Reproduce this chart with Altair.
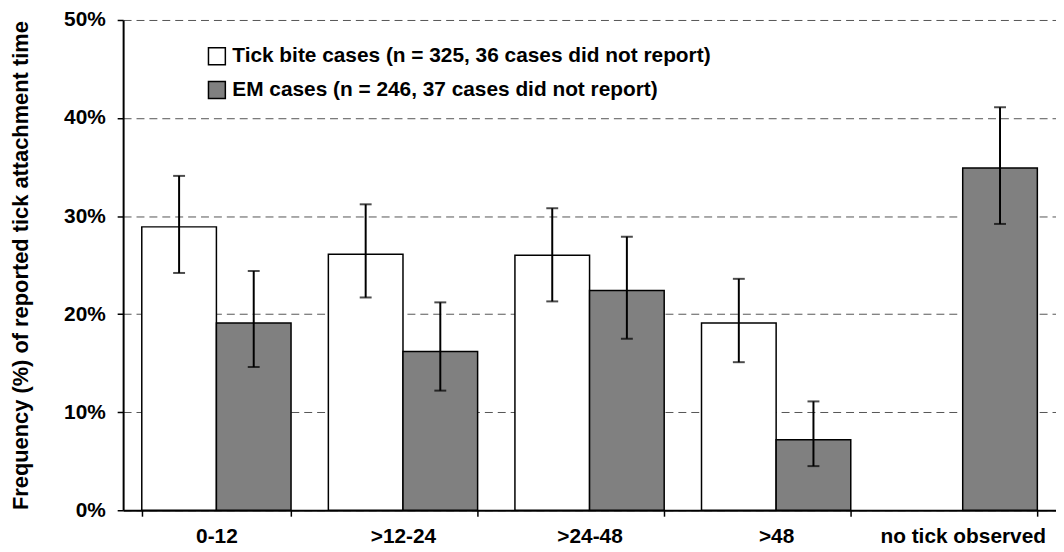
import altair as alt
import pandas as pd

categories = ["0-12", ">12-24", ">24-48", ">48", "no tick observed"]
series_names = ["Tick bite cases (n = 325, 36 cases did not report)",
                "EM cases (n = 246, 37 cases did not report)"]

tick_bite = [28.9, 26.1, 26.0, 19.1, None]
tick_bite_lo = [24.2, 21.7, 21.3, 15.1, None]
tick_bite_hi = [34.1, 31.2, 30.8, 23.6, None]

em = [19.1, 16.2, 22.4, 7.2, 34.9]
em_lo = [14.6, 12.2, 17.5, 4.5, 29.2]
em_hi = [24.4, 21.2, 27.9, 11.1, 41.1]

rows = []
for i, c in enumerate(categories):
    if tick_bite[i] is not None:
        rows.append({"cat": c, "series": series_names[0], "v": tick_bite[i],
                     "lo": tick_bite_lo[i], "hi": tick_bite_hi[i]})
    rows.append({"cat": c, "series": series_names[1], "v": em[i],
                 "lo": em_lo[i], "hi": em_hi[i]})
df = pd.DataFrame(rows)

FONT = "Liberation Sans"
FS = 21

x_enc = alt.X("cat:N", sort=categories,
              scale=alt.Scale(paddingInner=0.2, paddingOuter=0.1),
              axis=alt.Axis(title=None, labelAngle=0, tickBand="extent", tickSize=6,
                            tickColor="black", tickWidth=1.5, domainColor="black",
                            domainWidth=2, labelFont=FONT, labelFontSize=FS,
                            labelFontWeight="bold", labelColor="black", labelPadding=10,
                            grid=False))
xo_enc = alt.XOffset("series:N", sort=series_names,
                     scale=alt.Scale(domain=series_names))

base = alt.Chart(df)

bars = base.mark_bar(stroke="black", strokeWidth=1.5).encode(
    x=x_enc,
    xOffset=xo_enc,
    y=alt.Y("v:Q", scale=alt.Scale(domain=[0, 50]),
            axis=alt.Axis(values=[0, 10, 20, 30, 40, 50], labelExpr="datum.value + '%'",
                          title="Frequency (%) of reported tick attachment time",
                          titleFont=FONT, titleFontSize=22, titleFontWeight="bold",
                          titleColor="black", titlePadding=31,
                          labelFont=FONT, labelFontSize=FS, labelFontWeight="bold",
                          labelColor="black", labelPadding=12,
                          tickSize=6, tickColor="black", tickWidth=1.5,
                          domainColor="black", domainWidth=2,
                          grid=True, gridColor="#555555", gridDash=[8, 5], gridWidth=1)),
    fill=alt.Fill("series:N", sort=series_names,
                  scale=alt.Scale(domain=series_names, range=["white", "#808080"]),
                  legend=alt.Legend(title=None, orient="none", legendX=84, legendY=26,
                                    symbolType="square", symbolSize=289,
                                    symbolStrokeColor="black", symbolStrokeWidth=1.5,
                                    labelFont=FONT, labelFontSize=FS,
                                    labelFontWeight="bold", labelColor="black",
                                    labelLimit=800,
                                    labelOffset=5, rowPadding=11, padding=0)),
)

rules = base.mark_rule(color="black", strokeWidth=2).encode(
    x=alt.X("cat:N", sort=categories), xOffset=xo_enc,
    y="lo:Q", y2="hi:Q")

caps_lo = base.mark_tick(color="black", size=12, thickness=2, orient="horizontal").encode(
    x=alt.X("cat:N", sort=categories), xOffset=xo_enc, y="lo:Q")
caps_hi = base.mark_tick(color="black", size=12, thickness=2, orient="horizontal").encode(
    x=alt.X("cat:N", sort=categories), xOffset=xo_enc, y="hi:Q")

chart = alt.layer(bars, rules, caps_lo, caps_hi).properties(
    width=940, height=494,
    autosize=alt.AutoSizeParams(type="none"),
    padding={"left": 116, "top": 10, "right": 0, "bottom": 40},
    background="white",
).configure_view(strokeWidth=0)

chart.save("out.html", embed_options={"renderer": "svg", "actions": False})
